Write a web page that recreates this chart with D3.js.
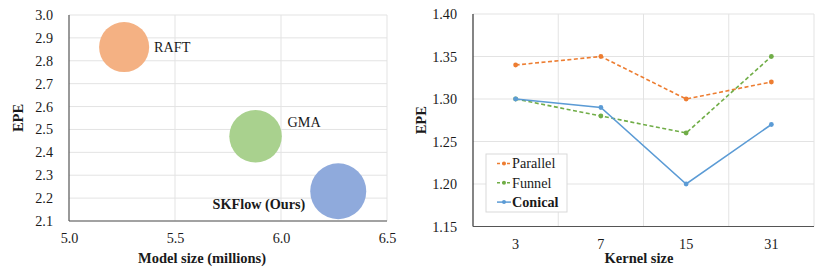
<!DOCTYPE html>
<html>
<head>
<meta charset="utf-8">
<script src="https://cdn.jsdelivr.net/npm/d3@7.9.0/dist/d3.min.js"></script>
<style>
  body { margin: 0; background: #fff; }
  svg { display: block; font-family: "Liberation Serif", "Times New Roman", serif; }
</style>
</head>
<body>
<svg width="830" height="277"></svg>
<script>
// bubble chart data
const models = ['RAFT', 'GMA', 'SKFlow (Ours)'];
const modelSize = [5.26, 5.88, 6.27];
const modelEpe = [2.86, 2.47, 2.23];
const bubbleSize = [4.0, 4.4, 5.0];
const bubbleColors = ['#f4b183', '#a9d18e', '#8faadc'];
const xTicksLeft = [5.0, 5.5, 6.0, 6.5];
const yTicksLeft = [2.1, 2.2, 2.3, 2.4, 2.5, 2.6, 2.7, 2.8, 2.9, 3.0];

// line chart data
const kernels = ['3', '7', '15', '31'];
const parallel = [1.34, 1.35, 1.30, 1.32];
const funnel = [1.30, 1.28, 1.26, 1.35];
const conical = [1.30, 1.29, 1.20, 1.27];
const seriesNames = ['Parallel', 'Funnel', 'Conical'];
const seriesColors = ['#ed7d31', '#70ad47', '#5b9bd5'];
const yTicksRight = [1.15, 1.20, 1.25, 1.30, 1.35, 1.40];

const svg = d3.select('svg');
const gridColor = '#e3e3e3';
const fontSize = '14.2px';
const titleSize = '14.5px';
const textColor = '#1a1a1a';

// ---------- left: bubble chart ----------
const L = { left: 69, right: 387, top: 15, bottom: 221 };
const x1 = d3.scaleLinear().domain([5.0, 6.5]).range([L.left, L.right]);
const y1 = d3.scaleLinear().domain([2.1, 3.0]).range([L.bottom, L.top]);
const r1 = d3.scaleSqrt().domain([0, 5.0]).range([0, 28]);

const g1 = svg.append('g');

g1.append('g')
  .selectAll('line')
  .data(yTicksLeft)
  .join('line')
  .attr('x1', L.left).attr('x2', L.right)
  .attr('y1', d => y1(d)).attr('y2', d => y1(d))
  .attr('stroke', gridColor);

g1.append('g')
  .selectAll('line')
  .data(xTicksLeft.slice(1))
  .join('line')
  .attr('x1', d => x1(d)).attr('x2', d => x1(d))
  .attr('y1', L.top).attr('y2', L.bottom)
  .attr('stroke', gridColor);

// axes (labels only, no tick marks)
const yAxis1 = d3.axisLeft(y1).tickValues(yTicksLeft).tickFormat(d3.format('.1f')).tickSize(0).tickPadding(16);
g1.append('g').attr('transform', `translate(${L.left},0)`).call(yAxis1)
  .call(g => g.select('.domain').remove())
  .selectAll('text').attr('font-size', fontSize).attr('font-family', 'Liberation Serif').attr('fill', textColor);

const xAxis1 = d3.axisBottom(x1).tickValues(xTicksLeft).tickFormat(d3.format('.1f')).tickSize(0).tickPadding(12);
g1.append('g').attr('transform', `translate(0,${L.bottom})`).call(xAxis1)
  .call(g => g.select('.domain').remove())
  .selectAll('text').attr('font-size', fontSize).attr('font-family', 'Liberation Serif').attr('fill', textColor);

g1.append('line').attr('x1', L.left).attr('x2', L.left).attr('y1', L.top).attr('y2', L.bottom).attr('stroke', '#555').attr('stroke-width', 1.2);
g1.append('line').attr('x1', L.left).attr('x2', L.right).attr('y1', L.bottom).attr('y2', L.bottom).attr('stroke', '#555').attr('stroke-width', 1.2);

const bubbles = models.map((m, i) => ({ name: m, x: modelSize[i], y: modelEpe[i], s: bubbleSize[i], c: bubbleColors[i] }));

g1.selectAll('circle')
  .data(bubbles)
  .join('circle')
  .attr('cx', d => x1(d.x))
  .attr('cy', d => y1(d.y))
  .attr('r', d => r1(d.s))
  .attr('fill', d => d.c);

// bubble labels
const labelPos = [
  { dx: 30, dy: 0, anchor: 'start', bold: false },
  { dx: 32, dy: -14, anchor: 'start', bold: false },
  { dx: -33, dy: 13, anchor: 'end', bold: true }
];
g1.selectAll('text.lbl')
  .data(bubbles)
  .join('text')
  .attr('class', 'lbl')
  .attr('x', (d, i) => x1(d.x) + labelPos[i].dx)
  .attr('y', (d, i) => y1(d.y) + labelPos[i].dy)
  .attr('dy', '0.35em')
  .attr('text-anchor', (d, i) => labelPos[i].anchor)
  .attr('font-size', fontSize)
  .attr('font-weight', (d, i) => labelPos[i].bold ? 'bold' : 'normal')
  .attr('fill', textColor)
  .text(d => d.name);

g1.append('text')
  .attr('transform', `translate(23,${(L.top + L.bottom) / 2}) rotate(-90)`)
  .attr('text-anchor', 'middle')
  .attr('font-size', titleSize).attr('font-weight', 'bold').attr('fill', textColor)
  .text('EPE');

g1.append('text')
  .attr('x', 202).attr('y', 263)
  .attr('text-anchor', 'middle')
  .attr('font-size', titleSize).attr('font-weight', 'bold').attr('fill', textColor)
  .text('Model size (millions)');

// ---------- right: line chart ----------
const R = { left: 473, right: 814, top: 14, bottom: 226.5 };
const x2 = d3.scaleBand().domain(kernels).range([R.left, R.right]);
const y2 = d3.scaleLinear().domain([1.15, 1.40]).range([R.bottom, R.top]);

const g2 = svg.append('g');

g2.append('g')
  .selectAll('line')
  .data(yTicksRight)
  .join('line')
  .attr('x1', R.left).attr('x2', R.right)
  .attr('y1', d => y2(d)).attr('y2', d => y2(d))
  .attr('stroke', gridColor);

g2.append('g')
  .selectAll('line')
  .data(kernels)
  .join('line')
  .attr('x1', d => x2(d) + x2.bandwidth()).attr('x2', d => x2(d) + x2.bandwidth())
  .attr('y1', R.top).attr('y2', R.bottom)
  .attr('stroke', gridColor);

const yAxis2 = d3.axisLeft(y2).tickValues(yTicksRight).tickFormat(d3.format('.2f')).tickSize(0).tickPadding(16);
g2.append('g').attr('transform', `translate(${R.left},0)`).call(yAxis2)
  .call(g => g.select('.domain').remove())
  .selectAll('text').attr('font-size', fontSize).attr('font-family', 'Liberation Serif').attr('fill', textColor);

const xAxis2 = d3.axisBottom(x2).tickSize(0).tickPadding(12);
g2.append('g').attr('transform', `translate(0,${R.bottom})`).call(xAxis2)
  .call(g => g.select('.domain').remove())
  .selectAll('text').attr('font-size', fontSize).attr('font-family', 'Liberation Serif').attr('fill', textColor);

g2.append('line').attr('x1', R.left).attr('x2', R.left).attr('y1', R.top).attr('y2', R.bottom).attr('stroke', '#333').attr('stroke-width', 1.2);
g2.append('line').attr('x1', R.left).attr('x2', R.right).attr('y1', R.bottom).attr('y2', R.bottom).attr('stroke', '#555').attr('stroke-width', 1.2);

const series = [parallel, funnel, conical].map((vals, i) => ({
  name: seriesNames[i],
  color: seriesColors[i],
  dash: i < 2 ? '4,2.5' : null,
  values: vals.map((v, j) => ({ k: kernels[j], v }))
}));

const line = d3.line()
  .x(d => x2(d.k) + x2.bandwidth() / 2)
  .y(d => y2(d.v));

const sg = g2.selectAll('g.series')
  .data(series)
  .join('g')
  .attr('class', 'series');

sg.append('path')
  .attr('d', d => line(d.values))
  .attr('fill', 'none')
  .attr('stroke', d => d.color)
  .attr('stroke-width', 1.6)
  .attr('stroke-dasharray', d => d.dash);

sg.selectAll('circle')
  .data(d => d.values.map(p => ({ ...p, color: d.color })))
  .join('circle')
  .attr('cx', d => x2(d.k) + x2.bandwidth() / 2)
  .attr('cy', d => y2(d.v))
  .attr('r', 2.4)
  .attr('fill', d => d.color);

// legend
const lg = g2.append('g').attr('transform', 'translate(486,154)');
lg.append('rect')
  .attr('width', 81).attr('height', 58)
  .attr('fill', '#fff').attr('stroke', '#d9d9d9');

const items = lg.selectAll('g.item')
  .data(series)
  .join('g')
  .attr('class', 'item')
  .attr('transform', (d, i) => `translate(0,${9.5 + i * 19.3})`);

items.append('line')
  .attr('x1', 11).attr('x2', 25)
  .attr('stroke', d => d.color).attr('stroke-width', 1.5)
  .attr('stroke-dasharray', d => d.dash ? '3,2' : null);
items.append('circle').attr('cx', 18).attr('r', 2).attr('fill', d => d.color);
items.append('text')
  .attr('x', 26).attr('dy', '0.35em')
  .attr('font-size', fontSize)
  .attr('font-weight', d => d.name === 'Conical' ? 'bold' : 'normal')
  .attr('fill', textColor)
  .text(d => d.name);

g2.append('text')
  .attr('transform', `translate(426,${(R.top + R.bottom) / 2}) rotate(-90)`)
  .attr('text-anchor', 'middle')
  .attr('font-size', titleSize).attr('font-weight', 'bold').attr('fill', textColor)
  .text('EPE');

g2.append('text')
  .attr('x', 639).attr('y', 263)
  .attr('text-anchor', 'middle')
  .attr('font-size', titleSize).attr('font-weight', 'bold').attr('fill', textColor)
  .text('Kernel size');
</script>
</body>
</html>
